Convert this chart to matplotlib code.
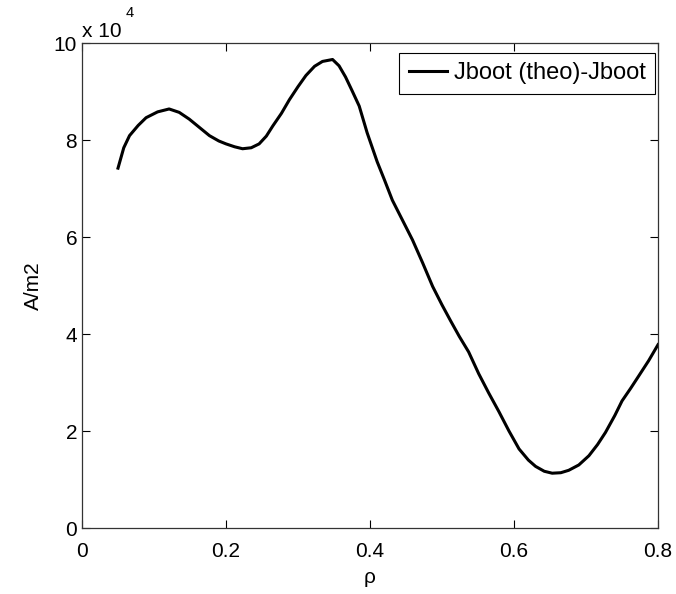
import matplotlib
matplotlib.use('Agg')
import matplotlib.pyplot as plt
from matplotlib.ticker import FuncFormatter

plt.rcParams['font.family'] = ['Liberation Sans', 'DejaVu Sans']

# bootstrap current difference profile vs normalised radius
rho = [0.050, 0.058, 0.066, 0.078, 0.089, 0.105, 0.121, 0.135, 0.149, 0.163,
       0.177, 0.190, 0.200, 0.212, 0.223, 0.235, 0.246, 0.256, 0.265, 0.277,
       0.288, 0.300, 0.311, 0.323, 0.334, 0.348, 0.357, 0.366, 0.375, 0.385,
       0.396, 0.410, 0.420, 0.431, 0.445, 0.459, 0.473, 0.487, 0.500, 0.512,
       0.524, 0.537, 0.551, 0.565, 0.579, 0.593, 0.607, 0.620, 0.630, 0.642,
       0.653, 0.665, 0.676, 0.690, 0.704, 0.716, 0.727, 0.740, 0.750, 0.762,
       0.773, 0.787, 0.800]
jboot = [74200, 78400, 80900, 83000, 84600, 85800, 86400, 85700, 84300, 82600,
         80900, 79800, 79200, 78600, 78200, 78400, 79200, 80800, 82900, 85500,
         88300, 91000, 93300, 95200, 96200, 96600, 95300, 93000, 90200, 87000,
         81500, 75500, 71800, 67600, 63500, 59400, 54700, 49800, 46000, 42700,
         39500, 36300, 31800, 27800, 24000, 20000, 16300, 14000, 12700, 11700,
         11300, 11400, 11900, 13000, 14900, 17200, 19700, 23200, 26200, 28800,
         31300, 34500, 37800]

fig = plt.figure(figsize=(6.76, 5.94), dpi=100)
ax = fig.add_axes([0.1213, 0.1111, 0.8521, 0.8165])

ax.plot(rho, jboot, color='black', linewidth=2.2, label='Jboot (theo)-Jboot')

ax.set_xlim(0, 0.8)
ax.set_ylim(0, 100000)
ax.set_xticks([0, 0.2, 0.4, 0.6, 0.8])
ax.set_yticks([0, 20000, 40000, 60000, 80000, 100000])
ax.xaxis.set_major_formatter(FuncFormatter(lambda v, p: '%g' % v))
ax.yaxis.set_major_formatter(FuncFormatter(lambda v, p: '%g' % (v / 1e4)))
ax.tick_params(direction='in', length=6, width=0.8, top=True, right=True,
               labelsize=15)
ax.tick_params(axis='x', pad=10)
ax.tick_params(axis='y', pad=3.5)
for s in ax.spines.values():
    s.set_linewidth(0.9)
    s.set_color('#333333')

# exponent label for the y axis
fig.text(82 / 676, 1 - 37 / 594, 'x 10', fontsize=15, ha='left', va='baseline')
fig.text(126 / 676, 1 - 17 / 594, '4', fontsize=10.5, ha='left', va='baseline')

ax.set_xlabel('ρ', fontsize=15, labelpad=5)
ax.set_ylabel('A/m2', fontsize=15, labelpad=8)

leg = ax.legend(loc='upper right', bbox_to_anchor=(0.9948, 0.9794),
                fontsize=17, fancybox=False, framealpha=1,
                edgecolor='black', borderaxespad=0, handlelength=1.6,
                borderpad=0.4, handletextpad=0.3)
leg.get_frame().set_linewidth(0.8)

fig.savefig('out.png', dpi=100)
